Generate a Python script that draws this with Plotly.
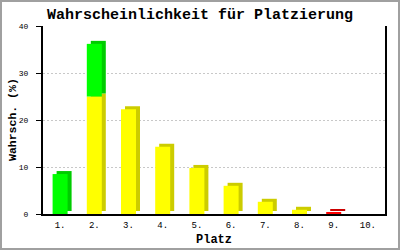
import plotly.graph_objects as go

# ---- data ----
categories = ["1.", "2.", "3.", "4.", "5.", "6.", "7.", "8.", "9.", "10."]
yellow_values = [0, 25.0, 22.3, 14.3, 9.8, 6.0, 2.6, 0.9, 0, 0]
green_values = [8.5, 11.2, 0, 0, 0, 0, 0, 0, 0, 0]
red_values = [0, 0, 0, 0, 0, 0, 0, 0, 0.4, 0]
y_ticks = [0, 10, 20, 30, 40]
title_text = "Wahrscheinlichkeit für Platzierung"
x_title = "Platz"
y_title = "Wahrsch. (%)"

# ---- style ----
W, H = 400, 250
ML, MR, MT, MB = 43, 15, 26, 36
PW, PH = W - ML - MR, H - MT - MB
YMAX = 40
BAR_W = 15 / (PW / len(categories))       # category units
DX = 4 / (PW / len(categories))           # depth offset x (category units)
DY = 3 / (PH / YMAX)                      # depth offset y (value units)
FONT = "Liberation Mono"

series = []
yb = [0] * len(categories)
series.append((yellow_values, yb, "#FFFF00", "#CCCC00"))
gb = [y for y in yellow_values]
series.append((green_values, gb, "#00FF00", "#00CC00"))
rb = [0] * len(categories)
series.append((red_values, rb, "#FF0000", "#CC0000"))

fig = go.Figure()


def nz(vals):
    return [v if v > 0 else None for v in vals]


# depth (side + top) faces first
for vals, base, front, side in series:
    fig.add_trace(go.Bar(
        x=categories, y=nz(vals), base=[b + DY for b in base],
        width=BAR_W, offset=-BAR_W / 2 + DX,
        marker=dict(color=side, line=dict(width=0)),
        hoverinfo="skip", showlegend=False))
# front faces
for vals, base, front, side in series:
    fig.add_trace(go.Bar(
        x=categories, y=nz(vals), base=base,
        width=BAR_W, offset=-BAR_W / 2,
        marker=dict(color=front, line=dict(width=0)),
        showlegend=False))

fig.update_layout(
    width=W, height=H,
    margin=dict(l=ML, r=MR, t=MT, b=MB, pad=0, autoexpand=False),
    barmode="overlay",
    paper_bgcolor="white", plot_bgcolor="white",
    title=dict(text="<b>" + title_text + "</b>",
               x=0.5, xanchor="center", y=1 - 14 / H, yanchor="middle",
               font=dict(family=FONT, size=15, color="black")),
    xaxis=dict(
        type="category", range=[-0.5, len(categories) - 0.5],
        automargin=False,
        showline=True, linecolor="black", linewidth=2, mirror=False,
        showgrid=False, ticks="", zeroline=False,
        tickfont=dict(family=FONT, size=9, color="black"),
        ticklabelstandoff=1,
    ),
    yaxis=dict(
        range=[0, YMAX], tickvals=y_ticks,
        automargin=False,
        showline=True, linecolor="black", linewidth=2, mirror=True,
        ticks="outside", ticklen=5, tickwidth=1, tickcolor="black",
        showgrid=True, gridcolor="#C8C8C8", griddash="2px,2px", gridwidth=1,
        zeroline=False,
        tickfont=dict(family=FONT, size=8, color="black"),
        ticklabelstandoff=6,
    ),
    annotations=[
        dict(text="<b>" + x_title + "</b>", xref="paper", yref="paper",
             x=0.5, y=-(239.5 - (H - MB)) / PH, xanchor="center", yanchor="middle",
             showarrow=False, font=dict(family=FONT, size=12, color="black")),
        dict(text="<b>" + y_title + "</b>", xref="paper", yref="paper",
             x=(12 - ML) / PW, y=0.5, xanchor="center", yanchor="middle",
             textangle=-90,
             showarrow=False, font=dict(family=FONT, size=11.5, color="black")),
    ],
    shapes=[dict(
        type="rect", xref="paper", yref="paper",
        x0=(-ML + 1) / PW, x1=(W - ML - 1) / PW,
        y0=(-MB + 1) / PH, y1=(H - MB - 1) / PH,
        line=dict(color="#A0A0A0", width=2), fillcolor="rgba(0,0,0,0)",
        layer="above")],
)

fig.write_html("out.html")
